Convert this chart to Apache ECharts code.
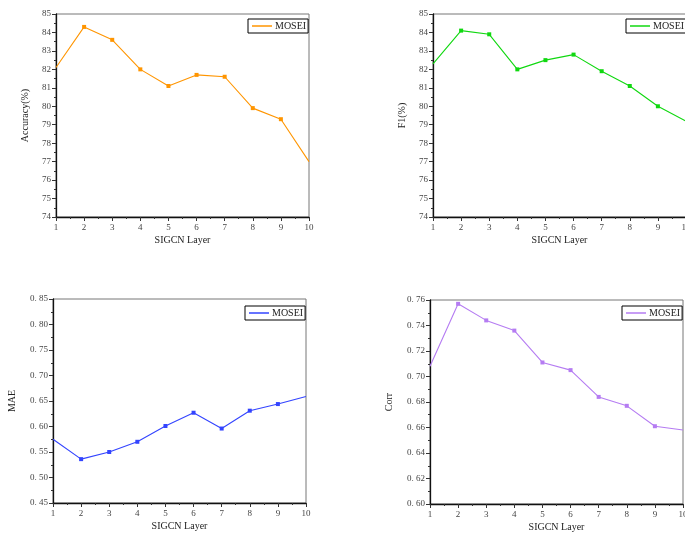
<!DOCTYPE html>
<html>
<head>
<meta charset="utf-8">
<script src="https://cdn.jsdelivr.net/npm/echarts@6/dist/echarts.min.js"></script>
<style>
html,body{margin:0;padding:0;background:#fff;}
#c{width:685px;height:533px;}
</style>
</head>
<body>
<div id="c"></div>
<script>
var layers = [1, 2, 3, 4, 5, 6, 7, 8, 9, 10];
var accuracy = [82.1, 84.3, 83.6, 82.0, 81.1, 81.7, 81.6, 79.9, 79.3, 77.0];
var f1 = [82.3, 84.1, 83.9, 82.0, 82.5, 82.8, 81.9, 81.1, 80.0, 79.2];
var mae = [0.575, 0.536, 0.550, 0.570, 0.601, 0.627, 0.596, 0.631, 0.644, 0.659];
var corr = [0.708, 0.757, 0.744, 0.736, 0.711, 0.705, 0.684, 0.677, 0.661, 0.658];
var seriesName = 'MOSEI';
var xTitle = 'SIGCN Layer';
var yTitles = ['Accuracy(%)', 'F1(%)', 'MAE', 'Corr'];
var colors = ['#FF9500', '#10D810', '#3344FF', '#B57CF2'];

var FONT = 'Liberation Serif';
var chart = echarts.init(document.getElementById('c'), null, {renderer: 'canvas'});

var grids = [
  {left: 56, top: 14, width: 253, height: 203},
  {left: 433, top: 14, width: 253, height: 203},
  {left: 53, top: 299, width: 253, height: 204},
  {left: 430, top: 300, width: 253, height: 204}
];
grids.forEach(function (g) {
  g.show = true; g.borderColor = '#777'; g.borderWidth = 1; g.backgroundColor = 'transparent';
  g.containLabel = false; g.outerBoundsMode = 'none';
});

function pairs(arr) {
  return layers.map(function (x, i) {
    var item = {value: [x, arr[i]]};
    if (i === 0 || i === layers.length - 1) item.symbolSize = 0;
    return item;
  });
}

var yCfg = [
  {min: 74, max: 85, interval: 1, fmt: function (v) { return String(Math.round(v)); }},
  {min: 74, max: 85, interval: 1, fmt: function (v) { return String(Math.round(v)); }},
  {min: 0.45, max: 0.85, interval: 0.05, fmt: function (v) { return v.toFixed(2).replace('.', '. '); }},
  {min: 0.60, max: 0.76, interval: 0.02, fmt: function (v) { return v.toFixed(2).replace('.', '. '); }}
];
var yNameGap = [26, 26, 36, 36];

var xAxes = [], yAxes = [], series = [], legends = [];
var legendPos = [
  {left: 248, top: 19},
  {left: 626, top: 19},
  {left: 245, top: 306},
  {left: 622, top: 306}
];
for (var i = 0; i < 4; i++) {
  xAxes.push({
    type: 'value', gridIndex: i, min: 1, max: 10, interval: 1,
    name: xTitle, nameLocation: 'middle', nameGap: 18,
    nameTextStyle: {fontFamily: FONT, fontSize: 10, color: '#222'},
    axisLine: {show: true, onZero: false, lineStyle: {color: '#111', width: 1.3}},
    axisTick: {show: true, inside: false, length: 4, lineStyle: {color: '#333'}},
    minorTick: {show: true, splitNumber: 2, length: 2, lineStyle: {color: '#333'}},
    axisLabel: {fontFamily: FONT, fontSize: 9, color: '#444', margin: 6},
    splitLine: {show: false}
  });
  yAxes.push({
    type: 'value', gridIndex: i, min: yCfg[i].min, max: yCfg[i].max, interval: yCfg[i].interval,
    name: yTitles[i], nameLocation: 'middle', nameGap: yNameGap[i], nameRotate: 90,
    nameTextStyle: {fontFamily: FONT, fontSize: 10, color: '#222'},
    axisLine: {show: true, onZero: false, lineStyle: {color: '#111', width: 1.3}},
    axisTick: {show: true, inside: false, length: 4, lineStyle: {color: '#333'}},
    minorTick: {show: true, splitNumber: 2, length: 2, lineStyle: {color: '#333'}},
    axisLabel: {fontFamily: FONT, fontSize: 9, color: '#444', margin: 5, formatter: yCfg[i].fmt},
    splitLine: {show: false}
  });
  series.push({
    type: 'line', name: seriesName + '_' + i, xAxisIndex: i, yAxisIndex: i,
    data: pairs([accuracy, f1, mae, corr][i]),
    symbol: 'rect', symbolSize: 4, showSymbol: true,
    lineStyle: {color: colors[i], width: 1.1},
    itemStyle: {color: colors[i]},
    clip: true, animation: false
  });
  legends.push({
    show: true, left: legendPos[i].left, top: legendPos[i].top,
    data: [{name: seriesName + '_' + i, icon: 'rect'}],
    formatter: function () { return seriesName; },
    itemWidth: 20, itemHeight: 1.5, itemGap: 2,
    padding: [2, 2, 2, 4], borderColor: '#000', borderWidth: 1, backgroundColor: '#fff',
    textStyle: {fontFamily: FONT, fontSize: 10, color: '#222', padding: [0, 0, 0, -2]},
    selectedMode: false
  });
}

chart.setOption({
  animation: false,
  backgroundColor: '#fff',
  grid: grids,
  xAxis: xAxes,
  yAxis: yAxes,
  legend: legends,
  series: series
});
</script>
</body>
</html>
